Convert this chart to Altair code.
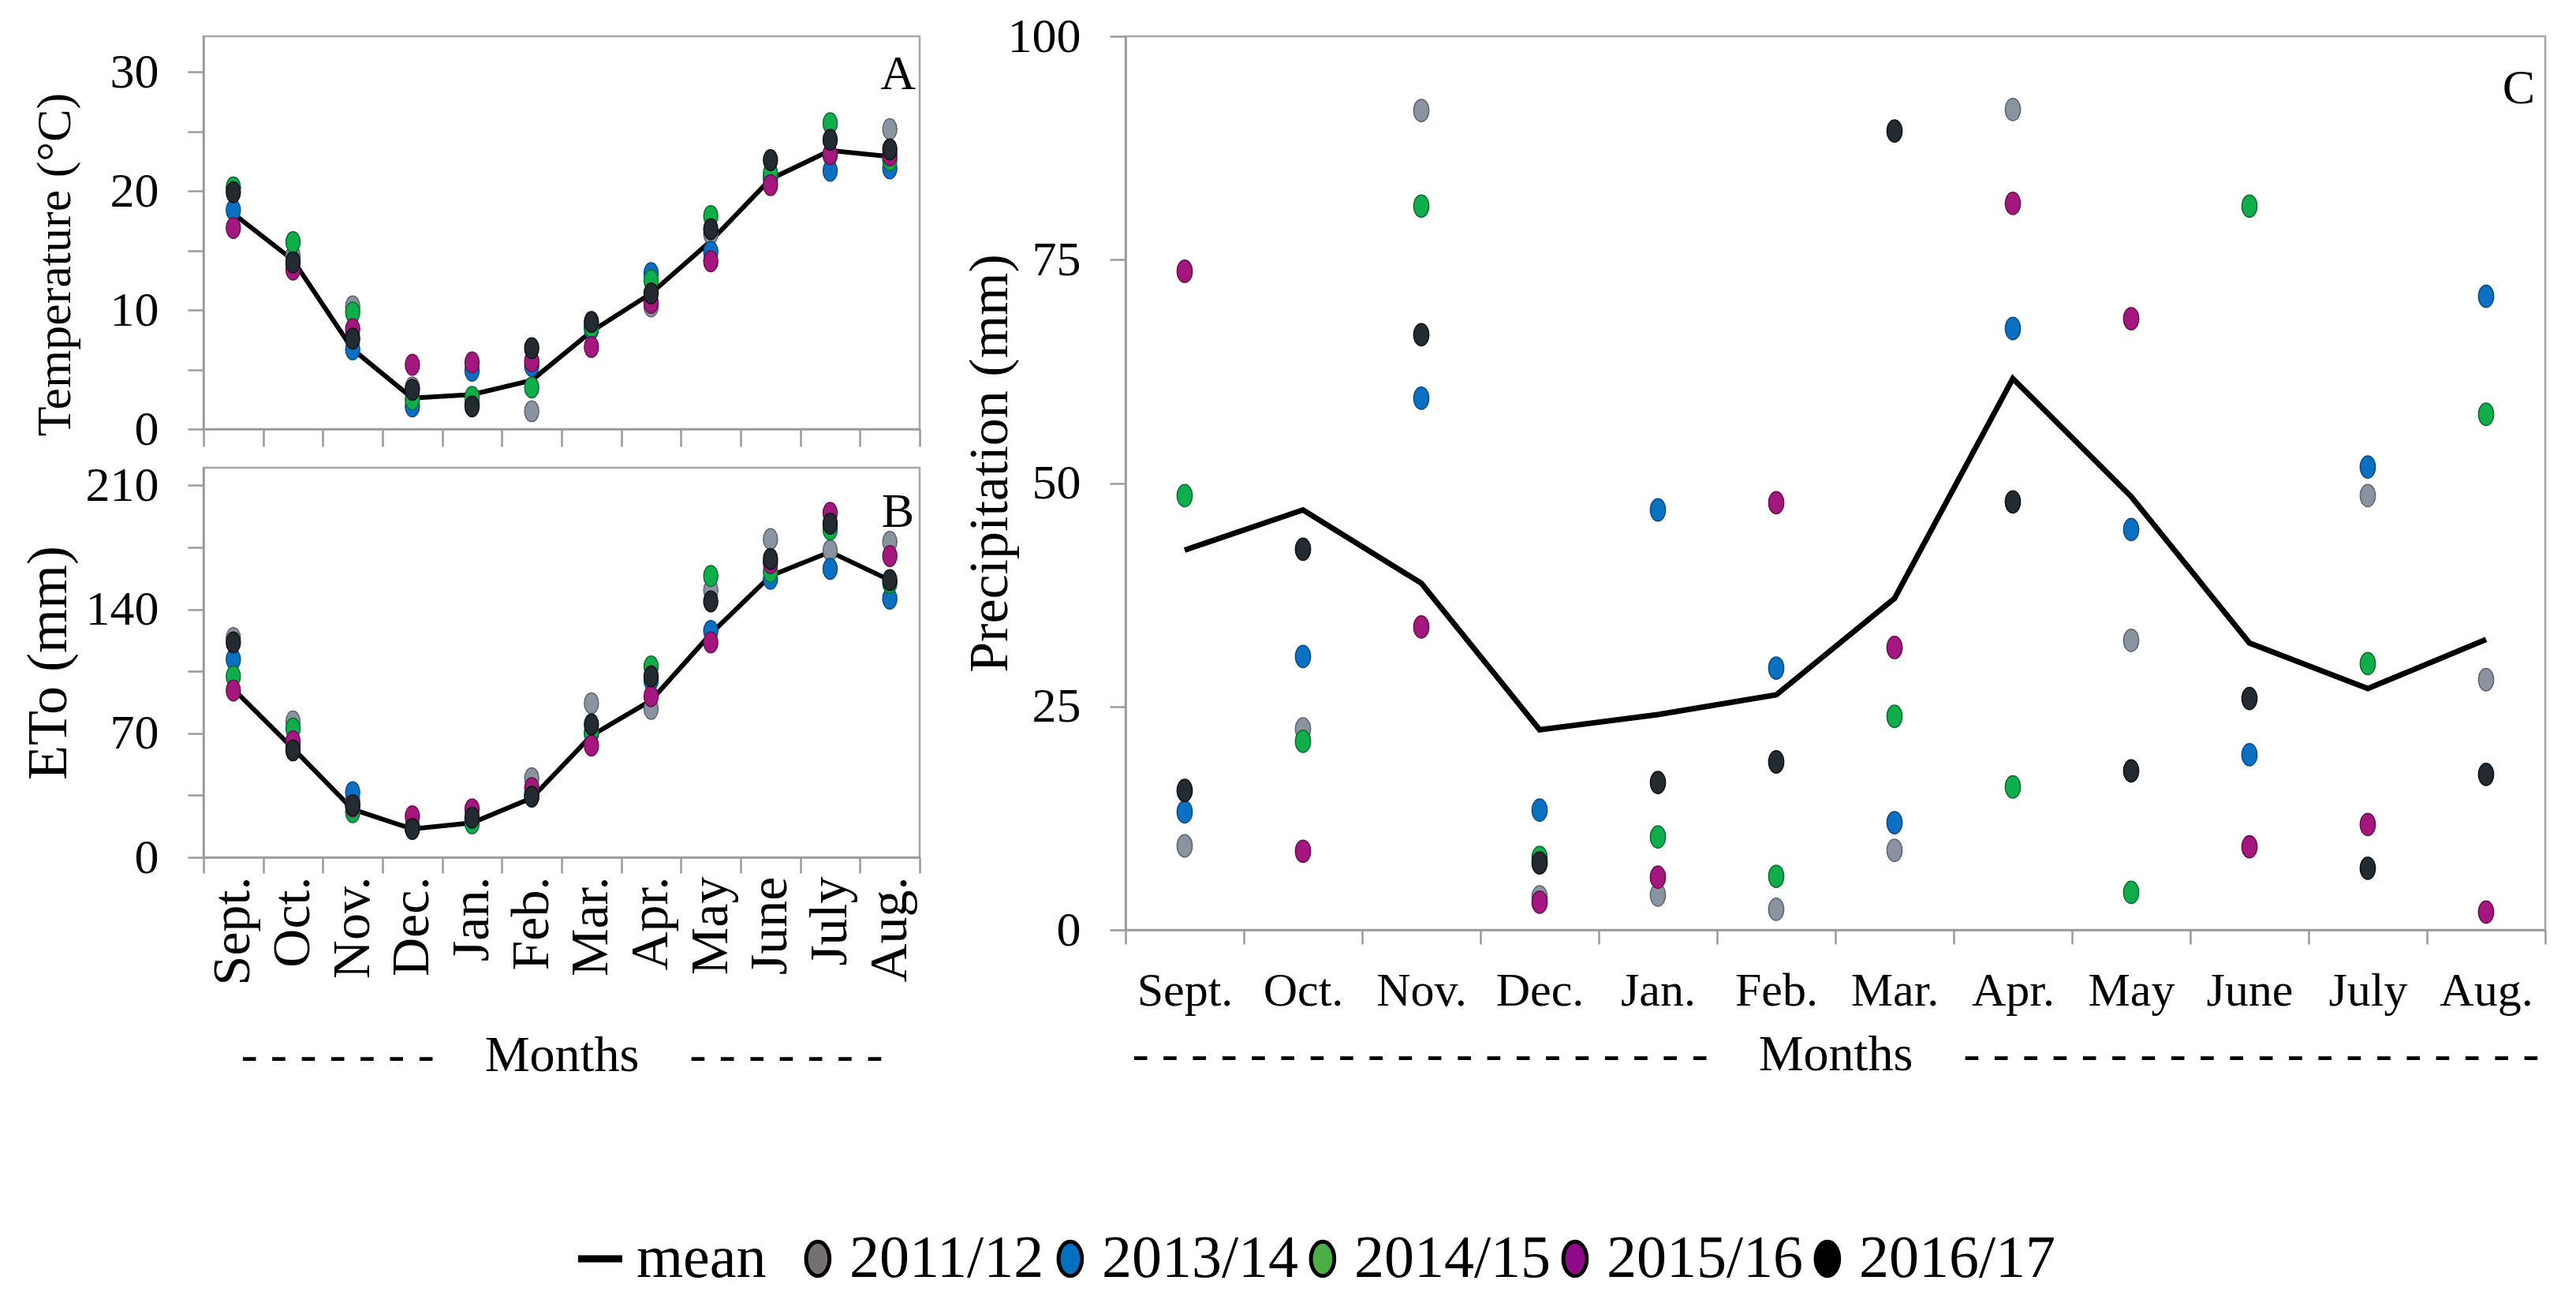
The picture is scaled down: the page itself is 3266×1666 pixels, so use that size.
import altair as alt
import pandas as pd

months = ["Sept.", "Oct.", "Nov.", "Dec.", "Jan.", "Feb.", "Mar.", "Apr.", "May", "June", "July", "Aug."]
years = ["2011/12", "2013/14", "2014/15", "2015/16", "2016/17"]
fill_colors = ["#8a94a0", "#0b6fc2", "#0fae4b", "#a3177f", "#232a30"]
edge_colors = ["#5d6670", "#0a4d8a", "#0a6e30", "#6a0f52", "#101418"]
legend_colors = ["#767171", "#0070c0", "#4caf46", "#8e0a8a", "#000000"]

# Panel A: temperature (degC)
temp_2011_12 = [20.3, 14.6, 10.3, 3.5, 2.2, 1.5, 8.7, 10.3, 16.4, 21.2, 23.0, 25.2]
temp_2013_14 = [18.4, 14.1, 6.7, 1.9, 4.9, 5.3, 8.4, 13.1, 14.9, 21.0, 21.7, 21.9]
temp_2014_15 = [20.3, 15.7, 9.8, 2.5, 2.7, 3.5, 8.6, 12.5, 17.9, 21.5, 25.7, 22.6]
temp_2015_16 = [16.9, 13.4, 8.4, 5.4, 5.6, 5.7, 6.9, 10.6, 14.1, 20.5, 23.1, 23.0]
temp_2016_17 = [19.9, 14.0, 7.6, 3.3, 1.9, 6.8, 9.0, 11.4, 16.8, 22.6, 24.3, 23.5]
temp_mean = [18.1, 14.2, 6.7, 2.6, 2.9, 4.1, 8.2, 11.4, 15.8, 21.0, 23.4, 22.9]

# Panel B: ETo (mm)
eto_2011_12 = [123.8, 76.7, 32.0, 17.0, 22.0, 44.7, 87.0, 83.8, 150.9, 179.7, 173.3, 178.1]
eto_2013_14 = [111.8, 63.0, 36.7, 16.5, 21.5, 35.0, 70.0, 100.0, 127.8, 157.3, 162.9, 146.1]
eto_2014_15 = [102.2, 72.7, 25.5, 17.5, 19.2, 35.5, 70.5, 107.8, 158.9, 161.3, 185.0, 154.9]
eto_2015_16 = [94.2, 65.5, 28.7, 23.2, 27.1, 39.1, 63.1, 91.0, 121.4, 166.1, 194.5, 170.1]
eto_2016_17 = [121.4, 60.4, 29.5, 16.0, 22.4, 34.3, 75.0, 102.2, 144.5, 168.5, 188.4, 156.5]
eto_mean = [95.0, 61.5, 27.1, 16.0, 19.5, 33.5, 68.7, 88.6, 126.2, 158.9, 172.5, 156.5]

# Panel C: precipitation (mm)
prec_2011_12 = [9.4, 22.5, 91.7, 3.7, 3.9, 2.3, 8.9, 91.8, 32.4, None, 48.6, 28.0]
prec_2013_14 = [13.2, 30.6, 59.5, 13.4, 47.0, 29.3, 12.0, 67.3, 44.8, 19.6, 51.8, 70.9]
prec_2014_15 = [48.6, 21.1, 81.0, 8.1, 10.4, 6.0, 23.9, 16.0, 4.2, 81.0, 29.8, 57.7]
prec_2015_16 = [73.7, 8.8, 33.9, 3.1, 5.9, 47.8, 31.6, 81.3, 68.4, 9.3, 11.8, 2.0]
prec_2016_17 = [15.6, 42.6, 66.6, 7.5, 16.5, 18.8, 89.4, 47.9, 17.8, 25.9, 6.9, 17.4]
prec_mean = [42.5, 47.0, 38.8, 22.4, 24.1, 26.3, 37.1, 61.7, 48.5, 32.1, 27.0, 32.5]

legend_labels = ["mean"] + years

FONT = "Liberation Serif"
ELLIPSE = "M -0.68 0 A 0.68 1 0 1 0 0.68 0 A 0.68 1 0 1 0 -0.68 0 Z"
NB = "\u00a0"


def dashes(n):
    return NB.join(["-"] * n)


def points_frame(series):
    rows = []
    for yr, vals in zip(years, series):
        for m, v in zip(months, vals):
            if v is not None:
                rows.append({"month": m, "year": yr, "value": v})
    return pd.DataFrame(rows)


def mean_frame(vals):
    return pd.DataFrame({"month": months, "value": vals})


color_scale = alt.Scale(domain=years, range=fill_colors)
stroke_scale = alt.Scale(domain=years, range=edge_colors)


def panel(series, mean_vals, width, height, ydomain, yvalues, label_step, ytitle,
          ytitle_size, ytitle_pad, ytitle_y, xaxis, letter, letter_dx, letter_y,
          dot_size, line_w, xtitle=None):
    x_kwargs = dict(sort=months,
                    scale=alt.Scale(type="band", domain=months, paddingInner=0, paddingOuter=0),
                    axis=xaxis)
    if xtitle is None:
        x = alt.X("month:N", title=None, **x_kwargs)
    else:
        x = alt.X("month:N", title=xtitle, **x_kwargs)
    y = alt.Y("value:Q",
              scale=alt.Scale(domain=ydomain, nice=False, zero=True),
              axis=alt.Axis(values=yvalues,
                            labelExpr=f"datum.value % {label_step} == 0 ? datum.label : ''",
                            title=ytitle, titlePadding=ytitle_pad, titleY=ytitle_y,
                            tickSize=20, labelPadding=37, labelFontSize=62,
                            titleFontSize=ytitle_size))
    line = alt.Chart(mean_frame(mean_vals)).mark_line(
        color="black", strokeWidth=line_w).encode(x=x, y=y)
    pts = alt.Chart(points_frame(series)).mark_point(
        shape=ELLIPSE, filled=True, size=dot_size, strokeWidth=1.5, opacity=1
    ).encode(
        x=x, y=y,
        color=alt.Color("year:N", scale=color_scale, legend=None),
        stroke=alt.Stroke("year:N", scale=stroke_scale, legend=None),
    )
    lab = alt.Chart(pd.DataFrame({"letter": [letter]})).mark_text(
        font=FONT, fontSize=62, align="right", baseline="top"
    ).encode(text="letter:N", x=alt.value(width - letter_dx), y=alt.value(letter_y))
    return alt.layer(line, pts, lab).properties(width=width, height=height)


axis_a = alt.Axis(labels=False, tickBand="extent", tickSize=22)
axis_b = alt.Axis(labelAngle=270, tickBand="extent", tickSize=20, labelPadding=4,
                  labelFontSize=68, titleFontSize=64, titlePadding=58)
axis_c = alt.Axis(labelAngle=0, tickBand="extent", tickSize=18, labelPadding=30,
                  labelFontSize=60, titleFontSize=64, titlePadding=19)

gap = NB * 4
title_ab = dashes(7) + gap + "Months" + gap + dashes(7)
title_c = dashes(20) + gap + "Months" + gap + dashes(20)

chart_a = panel([temp_2011_12, temp_2013_14, temp_2014_15, temp_2015_16, temp_2016_17],
                temp_mean, 908, 498, [0, 33], [0, 5, 10, 15, 20, 25, 30], 10,
                "Temperature (°C)", 62, 38, 289, axis_a, "A", 5, 18, 700, 6)

chart_b = panel([eto_2011_12, eto_2013_14, eto_2014_15, eto_2015_16, eto_2016_17],
                eto_mean, 908, 494, [0, 220], [0, 35, 70, 105, 140, 175, 210], 70,
                "ETo (mm)", 72, 10, 247, axis_b, "B", 7, 26, 700, 6, title_ab)

chart_c = panel([prec_2011_12, prec_2013_14, prec_2014_15, prec_2015_16, prec_2016_17],
                prec_mean, 1800, 1133, [0, 100], [0, 25, 50, 75, 100], 25,
                "Precipitation (mm)", 70, -14, 541, axis_c, "C", 13, 36, 800, 7, title_c)

# legend row
leg_df = pd.DataFrame({
    "label": legend_labels,
    "kind": ["mean"] + ["year"] * len(years),
    "pos": list(range(len(legend_labels))),
})
LW = 2970
STEP = 320.0
LO = -1.434
xL = alt.X("pos:Q", scale=alt.Scale(domain=[LO, LO + LW / STEP], nice=False, zero=False), axis=None)
yL = alt.value(25)
leg_line = alt.Chart(leg_df).transform_filter("datum.kind == 'mean'").mark_point(
    shape="stroke", size=3136, strokeWidth=9, color="black", filled=False, opacity=1
).encode(x=xL, y=yL, xOffset=alt.value(44))
leg_mean_text = alt.Chart(leg_df).transform_filter("datum.kind == 'mean'").mark_text(
    font=FONT, fontSize=76, align="left", baseline="middle", dx=90
).encode(x=xL, y=yL, text="label:N")
leg_dots = alt.Chart(leg_df).transform_filter("datum.kind == 'year'").mark_point(
    shape=ELLIPSE, filled=True, size=1900, stroke="black", strokeWidth=5, opacity=1
).encode(x=xL, y=yL,
         fill=alt.Fill("label:N", scale=alt.Scale(domain=years, range=legend_colors), legend=None))
leg_text = alt.Chart(leg_df).transform_filter("datum.kind == 'year'").mark_text(
    font=FONT, fontSize=76, align="left", baseline="middle", dx=40
).encode(x=xL, y=yL, text="label:N")
legend = alt.layer(leg_line, leg_mean_text, leg_dots, leg_text).properties(
    width=LW, height=50, view=alt.ViewBackground(stroke="white"))

left = alt.vconcat(chart_a, chart_b, spacing=6)
row = alt.hconcat(left, chart_c, spacing=49)
chart = alt.vconcat(row, legend, spacing=183).properties(
    padding={"left": 15, "top": 5, "right": 10, "bottom": 10}
).configure_axis(
    labelFont=FONT, titleFont=FONT, labelColor="black", titleColor="black",
    domainColor="#9a9a9a", tickColor="#9a9a9a", domainWidth=2.5, tickWidth=2.5,
    titleFontWeight="normal", grid=False
).configure_view(
    stroke="#a6a6a6", strokeWidth=2.5
).configure_title(font=FONT)

chart.save("out.html", embed_options={"renderer": "svg", "actions": False})
